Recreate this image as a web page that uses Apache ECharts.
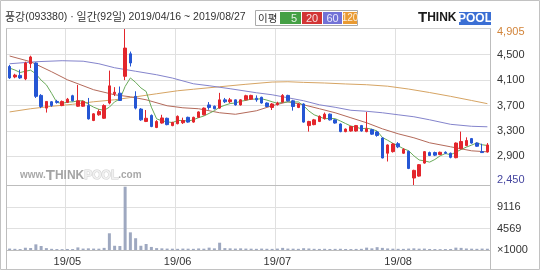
<!DOCTYPE html>
<html><head><meta charset="utf-8">
<script src="https://cdn.jsdelivr.net/npm/echarts@6/dist/echarts.min.js"></script>
<style>html,body{margin:0;padding:0;background:#fff}#c{width:540px;height:270px}</style>
</head><body><div id="c"></div>
<script>
const dates = [
'2019/04/16','2019/04/17','2019/04/18','2019/04/19','2019/04/22','2019/04/23','2019/04/24','2019/04/25','2019/04/26','2019/04/29','2019/04/30',
'2019/05/02','2019/05/03','2019/05/07','2019/05/08','2019/05/09','2019/05/10','2019/05/13','2019/05/14','2019/05/15','2019/05/16','2019/05/17','2019/05/20','2019/05/21','2019/05/22','2019/05/23','2019/05/24','2019/05/27','2019/05/28','2019/05/29','2019/05/30','2019/05/31',
'2019/06/03','2019/06/04','2019/06/05','2019/06/07','2019/06/10','2019/06/11','2019/06/12','2019/06/13','2019/06/14','2019/06/17','2019/06/18','2019/06/19','2019/06/20','2019/06/21','2019/06/24','2019/06/25','2019/06/26','2019/06/27','2019/06/28',
'2019/07/01','2019/07/02','2019/07/03','2019/07/04','2019/07/05','2019/07/08','2019/07/09','2019/07/10','2019/07/11','2019/07/12','2019/07/15','2019/07/16','2019/07/17','2019/07/18','2019/07/19','2019/07/22','2019/07/23','2019/07/24','2019/07/25','2019/07/26','2019/07/29','2019/07/30','2019/07/31',
'2019/08/01','2019/08/02','2019/08/05','2019/08/06','2019/08/07','2019/08/08','2019/08/09','2019/08/12','2019/08/13','2019/08/14','2019/08/16','2019/08/19','2019/08/20','2019/08/21','2019/08/22','2019/08/23','2019/08/26','2019/08/27'];
const opens = [4315,4150,4175,4120,4360,4370,3860,3660,3760,3765,3700,3750,3855,3690,3690,3700,3465,3555,3500,3740,3885,3895,4160,4515,3845,3645,3450,3545,3355,3425,3500,3385,3415,3430,3515,3440,3515,3555,3710,3690,3660,3790,3760,3790,3710,3790,3800,3815,3830,3740,3670,3715,3755,3860,3775,3670,3725,3385,3400,3450,3495,3565,3475,3410,3290,3300,3300,3385,3290,3320,3285,3190,2950,2975,3100,2950,2980,2560,2590,2795,2960,2960,2930,2965,2950,2880,3020,3070,3180,3110,2975,2970];
const closes = [4135,4180,4135,4370,4465,3845,3685,3765,3700,3750,3765,3800,3775,3775,3765,3490,3570,3605,3700,4010,3910,3780,4605,4370,3660,3475,3500,3370,3450,3505,3400,3435,3530,3465,3440,3515,3600,3660,3670,3650,3790,3760,3790,3710,3790,3855,3860,3790,3740,3685,3725,3740,3860,3775,3685,3725,3440,3450,3475,3530,3565,3475,3425,3290,3330,3370,3385,3300,3335,3250,3230,2875,3080,3095,3050,3010,2710,2680,2770,2975,2915,2920,2965,2950,2885,3110,3135,3150,3110,3060,2960,3080];
const lows = [4120,4130,4120,4100,4290,3820,3660,3590,3680,3730,3690,3740,3765,3680,3680,3480,3455,3540,3490,3720,3850,3775,4100,4315,3640,3460,3440,3360,3345,3415,3390,3375,3405,3410,3430,3430,3505,3545,3635,3640,3650,3740,3740,3700,3700,3780,3790,3760,3730,3680,3630,3700,3745,3765,3620,3660,3430,3290,3390,3440,3480,3465,3415,3280,3280,3290,3290,3290,3280,3240,3210,2870,2820,2960,3030,2940,2700,2450,2580,2785,2905,2905,2920,2935,2870,2870,3010,3060,3100,3050,2955,2960];
const highs = [4340,4200,4265,4390,4485,4380,3880,3770,3770,3790,3780,3820,3870,4025,3780,3820,3580,3640,3720,4250,3990,4000,4905,4550,3925,3660,3630,3560,3470,3555,3510,3445,3545,3510,3525,3525,3610,3670,3755,3700,3900,3820,3820,3795,3800,3870,3870,3860,3840,3750,3740,3760,3880,3870,3790,3740,3735,3460,3490,3545,3590,3575,3485,3420,3340,3380,3395,3395,3600,3335,3300,3200,3090,3110,3125,3030,2990,2690,2780,2985,2975,2975,2975,2980,2960,3120,3290,3200,3190,3120,3100,3110];
const volumes = [300,250,200,480,420,1200,850,400,250,200,180,220,200,550,300,350,300,280,450,3550,900,850,13450,3750,2500,900,1270,650,400,350,300,280,250,300,280,250,330,280,500,350,1550,400,350,300,350,300,280,250,300,260,240,300,450,300,280,250,380,320,250,230,260,220,240,260,220,200,230,250,500,350,600,450,330,280,250,240,300,350,280,300,220,200,180,200,220,500,450,320,280,250,300,270];
const ma5 = [4290,4260,4220,4240,4257,4199,4100,4026,3892,3749,3733,3756,3758,3773,3776,3721,3675,3641,3626,3675,3759,3801,4001,4135,4065,3978,3922,3675,3491,3460,3445,3432,3464,3467,3454,3477,3510,3536,3577,3619,3674,3706,3732,3740,3768,3781,3801,3801,3807,3786,3760,3736,3750,3757,3757,3757,3697,3615,3555,3524,3492,3499,3494,3457,3417,3378,3360,3335,3344,3328,3300,3198,3154,3106,3066,3022,2989,2909,2844,2829,2810,2852,2909,2945,2927,2966,3009,3046,3078,3113,3083,3072];
const ma20 = [[0,4480],[4,4390],[8,4232],[11,4106],[16,3949],[20,3870],[23,3838],[26,3791],[30,3697],[33,3665],[36,3650],[40,3587],[43,3563],[47,3618],[50,3697],[53,3760],[56,3712],[59,3650],[62,3587],[65,3508],[68,3429],[71,3334],[74,3256],[77,3193],[80,3114],[84,3051],[88,2988],[91,2972]];
const ma60 = [[0,4358],[5,4390],[10,4406],[14,4398],[17,4358],[20,4295],[24,4240],[28,4185],[31,4133],[35,4043],[38,4012],[42,3965],[47,3902],[50,3870],[53,3823],[56,3776],[59,3712],[62,3673],[65,3626],[68,3610],[71,3587],[74,3555],[77,3524],[80,3476],[84,3405],[88,3374],[91,3366]];
const ma120 = [[0,3600],[4,3650],[8,3689],[12,3720],[16,3760],[20,3791],[24,3838],[28,3886],[32,3933],[35,3957],[40,3996],[45,4035],[50,4070],[53,4075],[56,4065],[60,4055],[64,4040],[68,4028],[72,4005],[76,3960],[80,3905],[84,3845],[88,3780],[91,3730]];
const priceTicks = [2450,2900,3300,3700,4100,4500,4905];
const priceTickLabels = ['2,450','2,900','3,300','3,700','4,100','4,500','4,905'];
const volTicks = [0,4569,9116];
const volTickLabels = ['\u00d71000','4569','9116'];
const monthLabels = ['19/05','19/06','19/07','19/08'];
const titleText = '풍강(093380) · 일간(92일) 2019/04/16 ~ 2019/08/27';

const monthStarts = [];
dates.forEach((d,i)=>{ if(i>0 && d.slice(5,7)!==dates[i-1].slice(5,7)) monthStarts.push(i); });
const isMonthStart = (i)=> monthStarts.indexOf(i) >= 0;

const FONT = '"Liberation Sans", Arial, sans-serif';
const KFONT = '"Noto Sans CJK KR", sans-serif';
const titleRich = titleText.match(/[\uAC00-\uD7A3]+|[^\uAC00-\uD7A3]+/g)
  .map(s => /[\uAC00-\uD7A3]/.test(s) ? '{k|'+s+'}' : '{a|'+s+'}').join('');

const chart = echarts.init(document.getElementById('c'), null, {renderer:'canvas'});
const gridL = 7, gridW = 483;
const splitCol = '#e0e0e0';
const xBase = {
  type:'category', data: dates, boundaryGap:true,
  axisLine:{show:false}, axisTick:{show:false},
  splitLine:{show:true, interval:(i)=>isMonthStart(i), lineStyle:{color:splitCol, width:1}}
};
const option = {
  animation:false,
  backgroundColor:'#ffffff',
  textStyle:{fontFamily:FONT},
  grid:[
    {left:gridL, width:gridW, top:29, height:156},
    {left:gridL, width:gridW, top:185, height:65}
  ],
  xAxis:[
    Object.assign({}, xBase, {gridIndex:0, axisLabel:{show:false}}),
    Object.assign({}, xBase, {gridIndex:1, axisLabel:{show:true, interval:(i)=>isMonthStart(i), margin:6, fontSize:11, color:'#333',
      formatter:(v, i)=> monthLabels[monthStarts.indexOf(i)] || ''}})
  ],
  yAxis:[
    {gridIndex:0, type:'value', position:'right', min:2450, max:4905, scale:true,
     axisLine:{show:false}, axisTick:{show:false, customValues:[2900,3300,3700,4100,4500]},
     splitLine:{show:true, lineStyle:{color:splitCol, width:1}},
     axisLabel:{customValues:priceTicks, margin:7, fontSize:11, color:'#333', fontFamily:FONT,
       formatter:(v)=>{ const i = priceTicks.indexOf(Math.round(v)); const s = priceTickLabels[i] || '';
         if(i===priceTicks.length-1) return '{mx|'+s+'}'; if(i===0) return '{mn|'+s+'}'; return s; },
       rich:{mx:{color:'#d2843a', fontSize:11, fontFamily:FONT, padding:[6,0,0,0]},
             mn:{color:'#45459f', fontSize:11, fontFamily:FONT, padding:[0,0,10,0]}}}},
    {gridIndex:1, type:'value', position:'right', min:0, max:13812,
     axisLine:{show:false}, axisTick:{show:false, customValues:[4569,9116]},
     splitLine:{show:true, lineStyle:{color:splitCol, width:1}},
     axisLabel:{customValues:volTicks, margin:7, fontSize:11, color:'#333',
       formatter:(v)=> volTickLabels[volTicks.indexOf(Math.round(v))] || ''}}
  ],
  series:[
    {type:'line', name:'MA120', xAxisIndex:0, yAxisIndex:0, data:ma120, symbol:'none', connectNulls:true, z:2,
     lineStyle:{color:'#d6a463', width:1}},
    {type:'line', name:'MA60', xAxisIndex:0, yAxisIndex:0, data:ma60, symbol:'none', connectNulls:true, z:2,
     lineStyle:{color:'#8484cc', width:1}},
    {type:'line', name:'MA20', xAxisIndex:0, yAxisIndex:0, data:ma20, symbol:'none', connectNulls:true, z:2,
     lineStyle:{color:'#b46a5a', width:1}},
    {type:'line', name:'MA5', xAxisIndex:0, yAxisIndex:0, data:ma5, symbol:'none', z:2,
     lineStyle:{color:'#6aab5a', width:1}},
    {type:'candlestick', xAxisIndex:0, yAxisIndex:0, z:5, barWidth:3,
     data: opens.map((o,i)=>[o, closes[i], lows[i], highs[i]]),
     itemStyle:{color:'#e3262c', color0:'#2556d4', borderColor:'#e3262c', borderColor0:'#2556d4', borderWidth:1}},
    {type:'bar', xAxisIndex:1, yAxisIndex:1, data:volumes, barWidth:3, z:5,
     itemStyle:{color:'#9ea8c0'}}
  ],
  graphic:[
    {type:'rect', z:100, shape:{x:0.5, y:0.5, width:539, height:269}, style:{fill:null, stroke:'#c2c2c2', lineWidth:1}, silent:true},
    {type:'line', z:100, shape:{x1:6.5, y1:28, x2:6.5, y2:269}, style:{stroke:'#bdbdbd', lineWidth:1}},
    {type:'line', z:100, shape:{x1:490.5, y1:28, x2:490.5, y2:269}, style:{stroke:'#bdbdbd', lineWidth:1}},
    {type:'line', z:100, shape:{x1:6.5, y1:28.5, x2:490.5, y2:28.5}, style:{stroke:'#cfcfcf', lineWidth:1}},
    {type:'line', z:100, shape:{x1:6.5, y1:185.5, x2:490.5, y2:185.5}, style:{stroke:'#bdbdbd', lineWidth:1}},
    {type:'line', z:100, shape:{x1:6.5, y1:250.5, x2:490.5, y2:250.5}, style:{stroke:'#bdbdbd', lineWidth:1}},
    {type:'text', z:100, style:{x:5, y:17, text:titleRich, fill:'#333', verticalAlign:'middle', align:'left',
      rich:{k:{fontSize:11, fontFamily:KFONT, fill:'#333'}, a:{fontSize:10.5, fontFamily:FONT, fill:'#333'}}}},
    {type:'rect', z:100, shape:{x:255.5, y:10.5, width:102, height:15}, style:{fill:'#fff', stroke:'#aaa', lineWidth:1}},
    {type:'text', z:101, style:{x:258, y:18, text:'이평', fill:'#333', font:'10.5px '+KFONT, verticalAlign:'middle'}},
    {type:'rect', z:101, shape:{x:280, y:12, width:21, height:12}, style:{fill:'#45a045'}},
    {type:'rect', z:101, shape:{x:302, y:12, width:20, height:12}, style:{fill:'#d23535'}},
    {type:'rect', z:101, shape:{x:323, y:12, width:19, height:12}, style:{fill:'#7272d6'}},
    {type:'rect', z:101, shape:{x:343, y:12, width:14, height:12}, style:{fill:'#e99a32'}},
    {type:'text', z:102, style:{x:294, y:18.5, text:'5', fill:'#e4f2e4', font:'11px '+FONT, verticalAlign:'middle', align:'center'}},
    {type:'text', z:102, style:{x:312, y:18.5, text:'20', fill:'#f7dede', font:'11px '+FONT, verticalAlign:'middle', align:'center'}},
    {type:'text', z:102, style:{x:332.5, y:18.5, text:'60', fill:'#e8e8fb', font:'11px '+FONT, verticalAlign:'middle', align:'center'}},
    {type:'text', z:102, style:{x:350, y:18.5, text:'120', fill:'#fbeedb', font:'10px '+FONT, verticalAlign:'middle', align:'center'}},
    {type:'text', z:101, style:{x:418, y:25, text:'{a|T}{b|HINK}', verticalAlign:'bottom',
      rich:{a:{fontSize:15, fontWeight:'900', fill:'#1a1a1a', fontFamily:FONT}, b:{fontSize:12, fontWeight:'900', fill:'#1a1a1a', fontFamily:FONT}}}},
    {type:'rect', z:101, shape:{x:459, y:12, width:32, height:13}, style:{fill:'#3b6fd4'}},
    {type:'text', z:102, style:{x:475, y:18.5, text:'POOL', fill:'#fff', font:'bold 12px '+FONT, verticalAlign:'middle', align:'center'}},
    {type:'text', z:50, style:{x:20, y:183, text:'{w|www.}{t|T}{h|HINK}{p|POOL}{c|.com}', verticalAlign:'bottom',
      rich:{w:{fontSize:10, fontWeight:'bold', fill:'#a8a8a8', fontFamily:FONT},
            t:{fontSize:15, fontWeight:'bold', fill:'#a4a4a4', fontFamily:FONT},
            h:{fontSize:12, fontWeight:'bold', fill:'#a4a4a4', fontFamily:FONT},
            p:{fontSize:12, fontWeight:'bold', fill:'#f0f0f0', stroke:'#cfcfcf', lineWidth:1, fontFamily:FONT},
            c:{fontSize:10, fontWeight:'bold', fill:'#a8a8a8', fontFamily:FONT}}}}
  ]
};
chart.setOption(option);
</script>
</body></html>
